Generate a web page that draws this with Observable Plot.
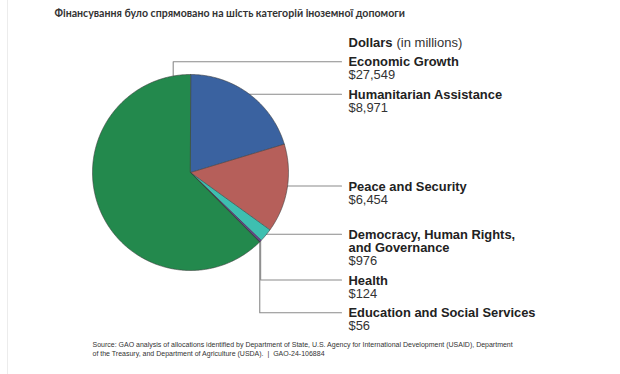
<!DOCTYPE html>
<html>
<head>
<meta charset="utf-8">
<script src="https://cdn.jsdelivr.net/npm/d3@7"></script>
<script src="https://cdn.jsdelivr.net/npm/@observablehq/plot@0.6"></script>
<style>
  html, body { margin: 0; padding: 0; background: #fff; }
  #chart svg { display: block; }
</style>
</head>
<body>
<div id="chart"></div>
<script>
// ---- data ----
const categories = [
  "Economic Growth",
  "Humanitarian Assistance",
  "Peace and Security",
  "Democracy, Human Rights, and Governance",
  "Health",
  "Education and Social Services"
];
const values = [27549, 8971, 6454, 976, 124, 56];
const sliceColors = ["#23894d", "#3a62a0", "#b65f5a", "#3ebfb0", "#6a3e9c", "#2e3350"];
// clockwise order of slices starting at 12 o'clock
const pieOrder = [1, 2, 3, 4, 5, 0];
const titleText = "Фінансування було спрямовано на шість категорій іноземної допомоги";
const unitsBold = "Dollars";
const unitsNormal = "(in millions)";
const sourceLines = [
  "Source: GAO analysis of allocations identified by Department of State, U.S. Agency for International Development (USAID), Department",
  "of the Treasury, and Department of Agriculture (USDA).  |  GAO-24-106884"
];

// ---- layout (positions in code, not data) ----
const W = 620, H = 374;
const cx = 190, cy = 172, R = 98;
const labelX = 348, leaderEndX = 341;
const nameBaselines = [65.7, 98.3, 190, 238.3, 284, 316.7];
const lineGap = 13;
const fontLabel = "Liberation Sans, Arial, Helvetica, sans-serif";

// ---- pie geometry from data ----
const pie = d3.pie().sort(null).value(i => values[i]);
const arcs = pie(pieOrder);
const pt = (a, r) => ({ x: cx + r * Math.sin(a), y: cy - r * Math.cos(a) });
const slicePts = [];
const midAngle = {};
arcs.forEach(arc => {
  const i = arc.data;
  midAngle[i] = (arc.startAngle + arc.endAngle) / 2;
  slicePts.push({ ...pt(0, 0), k: i, color: sliceColors[i] });
  const steps = Math.max(2, Math.ceil((arc.endAngle - arc.startAngle) / (Math.PI / 360)));
  for (let s = 0; s <= steps; s++) {
    const a = arc.startAngle + (arc.endAngle - arc.startAngle) * s / steps;
    slicePts.push({ ...pt(a, R), k: i, color: sliceColors[i] });
  }
});

// leader lines
const leaderPts = [];
categories.forEach((c, i) => {
  const ly = nameBaselines[i] - 4.5;
  if (i === 0) {
    const a = -Math.asin((cx - 172.7) / R);
    const p = pt(a, R);
    leaderPts.push({ x: p.x, y: p.y, k: i }, { x: p.x, y: ly, k: i }, { x: leaderEndX, y: ly, k: i });
  } else if (i === 4 || i === 5) {
    const p = pt(midAngle[i], R);
    leaderPts.push({ x: p.x, y: p.y, k: i }, { x: p.x, y: ly, k: i }, { x: leaderEndX, y: ly, k: i });
  } else {
    const p = pt(midAngle[i], R);
    leaderPts.push({ x: p.x, y: ly, k: i }, { x: leaderEndX, y: ly, k: i });
  }
});

// label blocks: name line(s) + value line, one text each
const fmt = d3.format("$,");
const labelRows = categories.map((c, i) => {
  const k = c.indexOf(", and ");
  const parts = k >= 0 ? [c.slice(0, k + 1), c.slice(k + 2)] : [c];
  const lines = [...parts, fmt(values[i])];
  return { text: lines.join("\n"), y: nameBaselines[i] + parts.length * lineGap };
});

const chart = Plot.plot({
  width: W,
  height: H,
  margin: 0,
  x: { domain: [0, W], range: [0, W], axis: null },
  y: { domain: [0, H], range: [0, H], axis: null },
  color: { type: "identity" },
  marks: [
    Plot.ruleX([7], { stroke: "#ececec", strokeWidth: 1 }),
    Plot.text([titleText], { x: 54, y: 16.5, text: d => d, textAnchor: "start", lineAnchor: "bottom",
      fontFamily: "Lato, 'Open Sans', sans-serif", fontWeight: "bold", fontSize: 10.6, fill: "#333" }),
    Plot.line(leaderPts, { x: "x", y: "y", z: "k", stroke: "#8a8a8a", strokeWidth: 1.1 }),
    Plot.line(slicePts, { x: "x", y: "y", z: "k", fill: "color", stroke: "#3d3d3d", strokeWidth: 0.6,
      curve: "linear-closed", strokeLinejoin: "round" }),
    Plot.text([unitsBold], { x: labelX, y: 46.7, text: d => d, textAnchor: "start", lineAnchor: "bottom",
      fontFamily: fontLabel, fontWeight: "bold", fontSize: 13, fill: "#222" }),
    Plot.text([unitsNormal], { x: 396, y: 46.7, text: d => d, textAnchor: "start", lineAnchor: "bottom",
      fontFamily: fontLabel, fontSize: 13, fill: "#333" }),
    Plot.text(labelRows, { x: labelX, y: "y", text: "text", textAnchor: "start", lineAnchor: "bottom",
      lineHeight: 1, fontFamily: fontLabel, fontWeight: "bold", fontSize: 12.9, fill: "#222" }),
    Plot.text(sourceLines, { x: 92, y: (d, i) => 346 + i * 9.7, text: d => d, textAnchor: "start", lineAnchor: "bottom",
      fontFamily: fontLabel, fontSize: 7.0, fill: "#333" })
  ]
});
// value line of each label block in regular weight
d3.select(chart).selectAll("text").each(function () {
  const ts = this.querySelectorAll("tspan");
  if (ts.length > 1 && ts[ts.length - 1].textContent.startsWith("$")) {
    ts[ts.length - 1].setAttribute("font-weight", "normal");
    ts[ts.length - 1].setAttribute("fill", "#333");
  }
});
document.getElementById("chart").appendChild(chart);
</script>
</body>
</html>
